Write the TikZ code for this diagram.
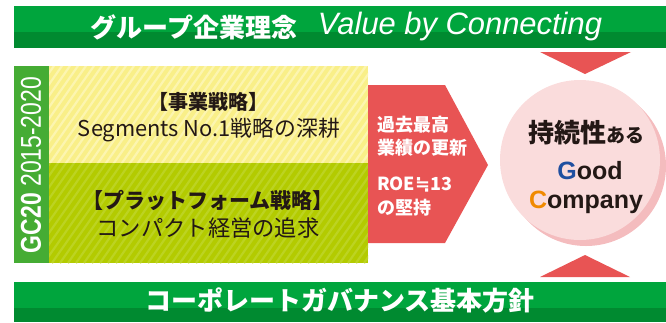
\documentclass[tikz,border=0pt]{standalone}
\usepackage{fontspec}
\setmainfont{Noto Sans CJK JP}
\newfontfamily\latinsans{Liberation Sans}
\newfontfamily\symfont{DejaVu Sans}
\definecolor{bannerL}{HTML}{00A53D}
\definecolor{bannerD}{HTML}{008A30}
\definecolor{barG}{HTML}{45AC34}
\definecolor{yel}{HTML}{F9EF88}
\definecolor{yelS}{HTML}{FCF5B0}
\definecolor{lime}{HTML}{B3CB00}
\definecolor{limeS}{HTML}{BCD322}
\definecolor{redA}{HTML}{E85454}
\definecolor{pinkL}{HTML}{FADCDC}
\definecolor{pinkD}{HTML}{F4BCBE}
\definecolor{txt}{HTML}{231815}
\definecolor{gblue}{HTML}{1F4FA0}
\definecolor{corange}{HTML}{F08A00}
\newcommand{\fs}[1]{\fontsize{#1}{#1}\selectfont}
\begin{document}
\begin{tikzpicture}[x=1pt,y=-1pt,
  every node/.style={inner sep=0pt, outer sep=0pt},
  bannertext/.style={text=white, font=\bfseries\fs{26}},
  boxtitle/.style={text=txt, font=\bfseries\fs{20}},
  boxline/.style={text=txt, font=\fs{20}},
  redtext/.style={text=white, font=\bfseries\fs{18}, anchor=west},
  tri/.style={fill=redA},
]
\useasboundingbox (0,0) rectangle (666,322);
% top banner
\fill[bannerL] (14,6) rectangle (666,32);
\fill[bannerD] (14,32) rectangle (666,48);
\node[bannertext] (rinen) at (194,27) {グループ企業理念};
\node[text=white] (value) at (460,27) {\resizebox{284pt}{!}{\latinsans\itshape Value by Connecting}};
% top triangle
\fill[tri] (540,52) -- (631,52) -- (585,74) -- cycle;
% left bar
\fill[barG] (14,66) rectangle (49,263);
\node[text=white, rotate=90] (gc) at (31,165) {\resizebox{176pt}{20pt}{\latinsans\bfseries GC20\ \mdseries 2015-2020}};
% yellow box
\fill[yel] (49,66) rectangle (368,163);
\begin{scope}
  \clip (49,66) rectangle (368,163);
  \foreach \a in {-100,-92,...,380} \draw[yelS, line width=2.2pt] (\a,263) -- (\a+140,63);
\end{scope}
% lime box
\fill[lime] (49,163) rectangle (368,263);
\begin{scope}
  \clip (49,163) rectangle (368,263);
  \foreach \a in {-100,-92,...,380} \draw[limeS, line width=2.2pt] (\a,263) -- (\a+140,63);
\end{scope}
\node[boxtitle] (jigyo) at (208,102) {【事業戦略】};
\node[boxline] (seg) at (209,130) {\resizebox{262pt}{!}{Segments No.1戦略の深耕}};
\node[boxtitle, font=\bfseries\fs{21}] (plat) at (208,200) {【プラットフォーム戦略】};
\node[boxline, font=\fs{21}] (compact) at (208,228) {\resizebox{223pt}{!}{コンパクト経営の追求}};
% red arrow
\fill[redA] (368,85) -- (445,85) -- (488,165) -- (445,243) -- (368,243) -- cycle;
\node[redtext] (r1) at (377,125) {過去最高};
\node[redtext] (r2) at (377,148) {業績の更新};
\node[redtext] (r3) at (377,185) {ROE{\symfont\bfseries ≒}13};
\node[redtext] (r4) at (377,208) {の堅持};
% circle
\fill[pinkD] (586,166) circle[radius=80pt];
\fill[pinkL] (580,160) circle[radius=80pt];
\node[text=txt, font=\bfseries\fs{26}] (jizoku) at (586,133) {持続性{\fs{19}ある}};
\node[text=txt, font=\latinsans\bfseries\fs{25}, anchor=base] (good) at (590,179) {\textcolor{gblue}{G}ood};
\node[text=txt, font=\latinsans\bfseries\fs{25}, anchor=base] (comp) at (586,208) {\textcolor{corange}{C}ompany};
% bottom triangle
\fill[tri] (540,277) -- (630,277) -- (585,255) -- cycle;
% bottom banner
\fill[bannerL] (14,282) rectangle (666,308);
\fill[bannerD] (14,308) rectangle (666,322);
\node[bannertext] (cg) at (340,300) {コーポレートガバナンス基本方針};
\end{tikzpicture}
\end{document}
